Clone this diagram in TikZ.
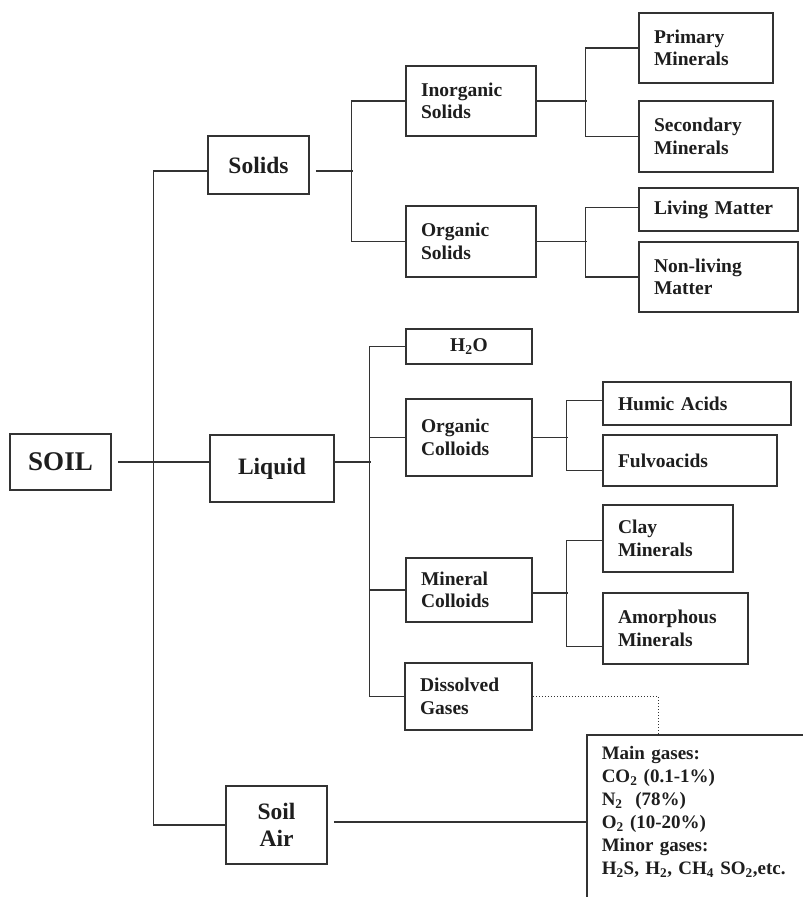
\documentclass[tikz,border=0pt]{standalone}
\usepackage{fontspec}
\setmainfont{Liberation Serif}
\usepackage{xcolor}
\usepackage{tikz}
\usetikzlibrary{positioning,calc}
\definecolor{ink}{HTML}{333333}
\definecolor{txt}{HTML}{1E1E1E}
\tikzset{
  box/.style={draw=ink,line width=1.5pt,fill=white,inner xsep=15pt,inner ysep=4pt,align=left,text=txt,font=\bfseries\fontsize{19.5}{22.5}\selectfont},
  topbox/.style={box,align=center,font=\bfseries\fontsize{23.5}{27}\selectfont},
  gasbox/.style={box,anchor=north west,inner ysep=12pt,font=\bfseries\fontsize{19}{23}\selectfont},
  link/.style={draw=ink,line width=1.5pt},
  gap/.style={link,shorten <=6pt},
}

\begin{document}
\begin{tikzpicture}[x=1pt,y=-1pt]
    \clip (0,0) rectangle (803,897);
    \node[topbox,line width=2pt,text width=71pt,minimum height=56pt,font=\bfseries\fontsize{27}{30}\selectfont] (soil) at (60.5,462) {SOIL};
    \node[topbox,text width=71pt,minimum height=58pt] (solids) at (258.5,165) {Solids};
    \node[topbox,text width=94pt,minimum height=67pt] (liquid) at (272,468.5) {Liquid};
    \node[topbox,text width=71pt,minimum height=78pt] (soilair) at (276.5,825) {Soil\\Air};
    \node[box,text width=100pt,minimum height=70pt] (inorg) at (471,101) {Inorganic\\Solids};
    \node[box,text width=100pt,minimum height=71pt] (orgs) at (471,241.5) {Organic\\Solids};
    \node[box,align=center,text width=96pt,minimum height=35pt] (h2o) at (469,346.5) {H\textsubscript{2}O};
    \node[box,text width=96pt,minimum height=77pt] (oc) at (469,437.5) {Organic\\Colloids};
    \node[box,text width=96pt,minimum height=64pt] (mc) at (469,590) {Mineral\\Colloids};
    \node[box,text width=97pt,minimum height=67pt] (dg) at (468.5,696.5) {Dissolved\\Gases};
    \node[box,text width=104pt,minimum height=70pt] (prim) at (706,48) {Primary\\Minerals};
    \node[box,text width=104pt,minimum height=71pt] (sec) at (706,136.5) {Secondary\\Minerals};
    \node[box,text width=129pt,minimum height=43pt] (living) at (718.5,209.5) {Living Matter};
    \node[box,text width=129pt,minimum height=70pt] (nonliv) at (718.5,277) {Non-living\\Matter};
    \node[box,text width=158pt,minimum height=43pt] (humic) at (697,403.5) {Humic Acids};
    \node[box,text width=144pt,minimum height=51pt] (fulvo) at (690,460.5) {Fulvoacids};
    \node[box,text width=100pt,minimum height=67pt] (clay) at (668,538.5) {Clay\\Minerals};
    \node[box,text width=115pt,minimum height=71pt] (amorph) at (675.5,628.5) {Amorphous\\Minerals};
    \node[gasbox,text width=230pt] (gas) at (586,734) {Main gases:\\
      CO\textsubscript{2} (0.1-1\%)\\
      N\textsubscript{2}~~(78\%)\\
      O\textsubscript{2} (10-20\%)\\
      Minor gases:\\
      H\textsubscript{2}S, H\textsubscript{2}, CH\textsubscript{4} SO\textsubscript{2},etc.\\
      \mbox{}\\ \mbox{}};
    % trunk
    \draw[gap] (soil.east) -- (soil.east -| liquid.west);
    \draw[link] ([yshift=-6pt]solids.west) -- ++(-54,0) |- (soilair.west);
    % solids
    \draw[gap] ([yshift=-6pt]solids.east) -- ++(43,0);
    \draw[link] (inorg.west) -- ++(-54,0) |- (orgs.west);
    \draw[link] (inorg.east) -- ++(50,0);
    \draw[link] (prim.west) -- ++(-53,0) |- (sec.west);
    \draw[link] (orgs.east) -- ++(50,0);
    \draw[link] ([yshift=2pt]living.west) -- ++(-53,0) |- (nonliv.west);
    % liquid
    \draw[link] (soil.east -| liquid.east) -- ++(36,0);
    \draw[link] (h2o.west) -- ++(-36,0) |- (dg.west);
    \draw[link] (oc.west) -- ++(-36,0);
    \draw[link] (mc.west) -- ++(-36,0);
    \draw[link] (oc.east) -- ++(35,0);
    \draw[link] ([yshift=3pt]humic.west) -- ++(-36,0) |- ([yshift=-10pt]fulvo.west);
    \draw[link] ([yshift=-3pt]mc.east) -- ++(35,0);
    \draw[link] ([yshift=-2pt]clay.west) -- ++(-36,0) |- ([yshift=-18pt]amorph.west);
    % soil air
    \draw[gap] ([yshift=3pt]soilair.east) -- ([yshift=3pt]soilair.east -| gas.west);
    \draw[link,line width=1pt,dotted] (dg.east) -| ([xshift=72pt]gas.north west);
  \end{tikzpicture}
\end{document}
